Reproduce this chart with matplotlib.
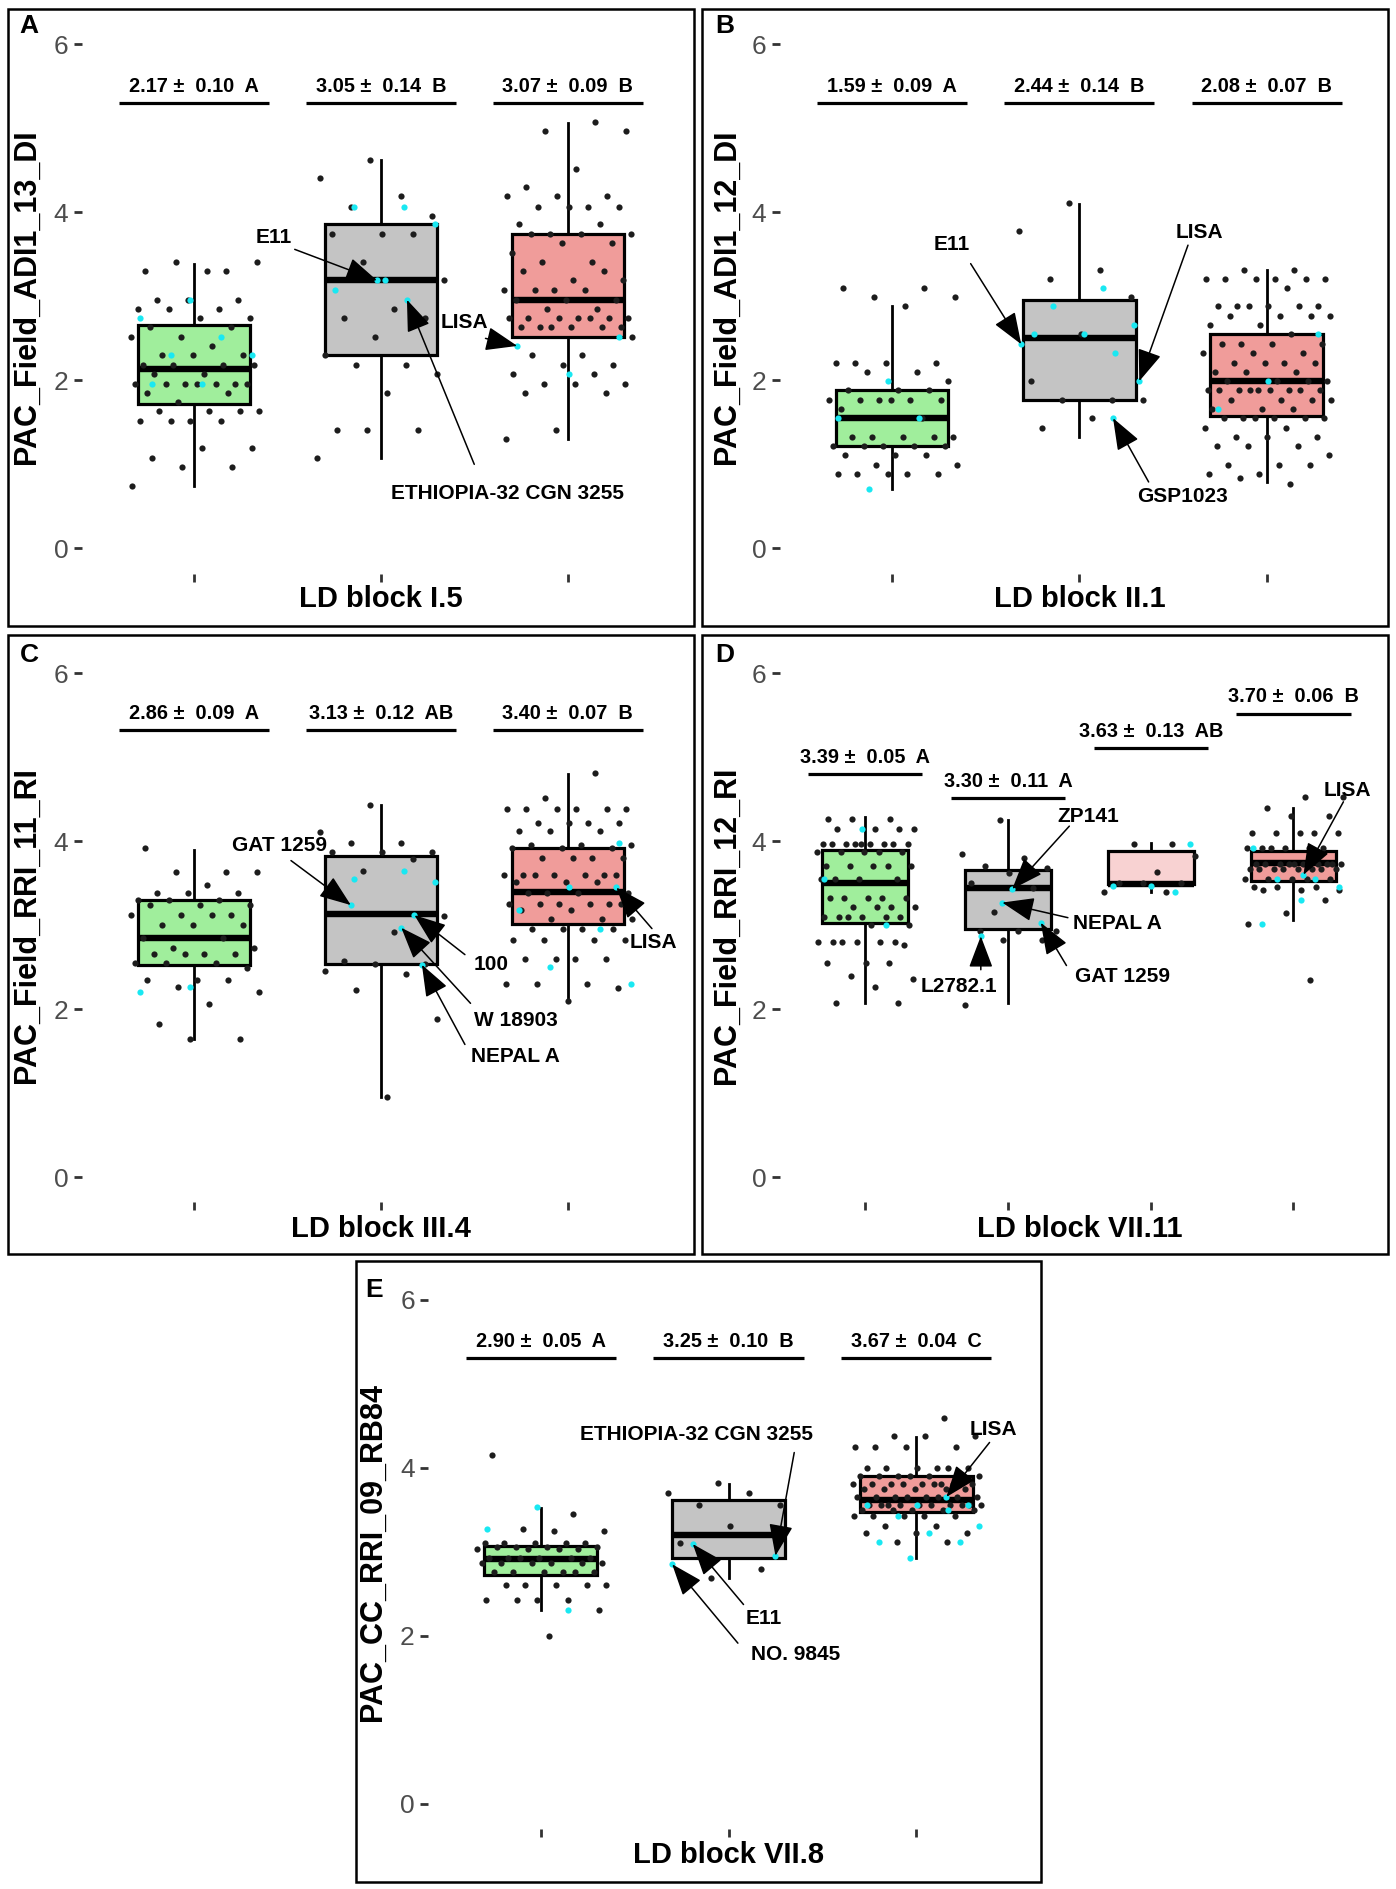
import numpy as np
import matplotlib
matplotlib.use("Agg")
from matplotlib import pyplot as plt
from matplotlib.patches import Rectangle

plt.rcParams['font.family'] = ['Liberation Sans', 'DejaVu Sans']

# ---------------- data ----------------
# Panel A  (LD block I.5)
a_q1 = [1.72, 2.30, 2.52]
a_med = [2.14, 3.19, 2.96]
a_q3 = [2.66, 3.86, 3.74]
a_lo = [0.74, 1.08, 1.30]
a_hi = [3.39, 4.62, 5.07]
a_means = ["2.17 \u00b1  0.10  A", "3.05 \u00b1  0.14  B", "3.07 \u00b1  0.09  B"]
a_black = [
    [3.30, 3.30, 3.41, 3.41, 3.30, 2.96, 2.96, 2.96, 2.85, 2.85, 2.85, 2.74, 2.74, 2.63, 2.63, 2.52, 2.52,
     2.41, 2.30, 2.30, 2.30, 2.18, 2.18, 2.18, 2.18, 2.07, 2.07, 1.96, 1.96, 1.96, 1.96, 1.96, 1.96, 1.96,
     1.85, 1.85, 1.74, 1.63, 1.63, 1.63, 1.63, 1.52, 1.52, 1.52, 1.52, 1.19, 1.19, 1.08, 0.97, 0.97, 0.74],
    [4.62, 4.41, 4.19, 4.07, 3.96, 3.74, 3.74, 3.74, 3.41, 3.19, 2.85, 2.74, 2.74, 2.52, 2.30, 2.18, 2.18,
     2.07, 1.85, 1.41, 1.41, 1.41, 1.08],
    [5.08, 4.97, 4.97, 4.52, 4.30, 4.19, 4.19, 4.19, 4.07, 4.07, 4.07, 4.07, 3.86, 3.86, 3.74, 3.74, 3.74,
     3.74, 3.63, 3.63, 3.52, 3.41, 3.41, 3.19, 3.19, 3.30, 3.30, 3.08, 3.08, 3.08, 3.08, 2.96, 2.96, 2.96,
     2.85, 2.85, 2.74, 2.74, 2.74, 2.74, 2.74, 2.74, 2.74, 2.63, 2.63, 2.63, 2.63, 2.63, 2.63, 2.52, 2.30,
     2.30, 2.18, 2.18, 2.07, 2.07, 1.96, 1.96, 1.96, 1.85, 1.85, 1.41, 1.30],
]
a_cyan = [
    [2.96, 2.74, 2.52, 2.30, 2.30, 1.96, 1.96],
    [4.07, 4.07, 3.86, 3.19, 3.08],
    [2.52, 2.07],
]
# named accessions: label, group, value, jitter, text x, text y, arrow start x, arrow start y
a_named = [
    ("E11", 2, 3.19, -0.02, 1.43, 3.70, 1.54, 3.56),
    ("ETHIOPIA-32 CGN 3255", 2, 2.96, 0.14, 2.68, 0.65, 2.50, 1.00),
    ("LISA", 3, 2.41, -0.27, 2.45, 2.69, 2.56, 2.50),
]

# Panel B  (LD block II.1)
b_q1 = [1.22, 1.77, 1.57]
b_med = [1.55, 2.50, 1.99]
b_q3 = [1.89, 2.96, 2.55]
b_lo = [0.71, 1.33, 0.79]
b_hi = [2.88, 4.10, 3.32]
b_means = ["1.59 \u00b1  0.09  A", "2.44 \u00b1  0.14  B", "2.08 \u00b1  0.07  B"]
b_black = [
    [3.10, 3.10, 2.99, 2.99, 2.88, 2.21, 2.21, 2.21, 2.21, 2.10, 2.10, 1.99, 1.89, 1.89, 1.89, 1.77, 1.77,
     1.77, 1.77, 1.77, 1.77, 1.66, 1.55, 1.33, 1.33, 1.33, 1.33, 1.33, 1.22, 1.22, 1.22, 1.22, 1.22, 1.11,
     1.11, 1.11, 0.99, 0.99, 0.88, 0.88, 0.88, 0.88, 0.88],
    [4.11, 3.78, 3.32, 3.21, 2.99, 2.55, 1.99, 1.77, 1.77, 1.77, 1.55, 1.43, 1.33],
    [3.32, 3.32, 3.21, 3.21, 3.21, 3.21, 3.21, 3.21, 3.10, 2.88, 2.88, 2.88, 2.88, 2.88, 2.88, 2.77, 2.77,
     2.77, 2.77, 2.66, 2.66, 2.55, 2.43, 2.43, 2.43, 2.43, 2.32, 2.32, 2.32, 2.21, 2.21, 2.21, 2.21, 2.10,
     2.10, 2.10, 1.99, 1.99, 1.99, 1.99, 1.89, 1.89, 1.89, 1.89, 1.89, 1.89, 1.89, 1.89, 1.89, 1.77, 1.77,
     1.77, 1.77, 1.66, 1.66, 1.66, 1.55, 1.55, 1.55, 1.55, 1.55, 1.55, 1.43, 1.43, 1.33, 1.33, 1.33, 1.22,
     1.22, 1.22, 1.11, 0.99, 0.99, 0.99, 0.88, 0.88, 0.77, 0.84],
]
b_cyan = [
    [1.99, 1.55, 1.55, 0.71],
    [3.10, 2.88, 2.66, 2.55, 2.55, 2.32],
    [2.55, 1.99, 1.66],
]
b_named = [
    ("E11", 2, 2.43, -0.31, 1.32, 3.62, 1.42, 3.39),
    ("LISA", 2, 1.99, 0.32, 2.64, 3.76, 2.58, 3.61),
    ("GSP1023", 2, 1.55, 0.18, 2.55, 0.62, 2.37, 0.79),
]

# Panel C  (LD block III.4)
c_q1 = [2.53, 2.54, 3.02]
c_med = [2.85, 3.13, 3.40]
c_q3 = [3.30, 3.82, 3.92]
c_lo = [1.65, 0.95, 2.10]
c_hi = [3.90, 4.43, 4.80]
c_means = ["2.86 \u00b1  0.09  A", "3.13 \u00b1  0.12  AB", "3.40 \u00b1  0.07  B"]
c_black = [
    [3.92, 3.63, 3.63, 3.63, 3.48, 3.38, 3.38, 3.38, 3.30, 3.30, 3.30, 3.24, 3.24, 3.24, 3.12, 3.12, 3.12,
     3.12, 3.00, 3.00, 3.00, 2.85, 2.85, 2.73, 2.73, 2.66, 2.66, 2.66, 2.66, 2.55, 2.55, 2.55, 2.49, 2.35,
     2.35, 2.35, 2.27, 2.21, 2.06, 1.82, 1.65, 1.65],
    [4.43, 4.11, 3.98, 3.98, 3.87, 3.87, 3.87, 3.79, 3.65, 3.11, 2.92, 2.58, 2.54, 2.54, 2.45, 2.42, 2.23,
     1.88, 0.95],
    [4.81, 4.52, 4.38, 4.38, 4.38, 4.38, 4.38, 4.38, 4.22, 4.22, 4.22, 4.22, 4.12, 4.12, 4.12, 3.95, 3.95,
     3.95, 3.92, 3.92, 3.92, 3.80, 3.80, 3.80, 3.80, 3.60, 3.60, 3.60, 3.60, 3.60, 3.60, 3.60, 3.52, 3.52,
     3.52, 3.38, 3.38, 3.38, 3.38, 3.25, 3.25, 3.25, 3.25, 3.25, 3.25, 3.18, 3.18, 3.08, 3.08, 3.08, 2.95,
     2.95, 2.95, 2.95, 2.82, 2.82, 2.82, 2.82, 2.60, 2.60, 2.60, 2.60, 2.30, 2.30, 2.30, 2.25, 2.10],
]
c_cyan = [
    [2.27, 2.21],
    [3.65, 3.55, 3.52],
    [3.98, 3.45, 3.18, 2.95, 2.50, 2.30],
]
c_named = [
    ("GAT 1259", 2, 3.24, -0.16, 1.46, 3.95, 1.52, 3.77),
    ("100", 2, 3.12, 0.18, 2.59, 2.53, 2.45, 2.65),
    ("W 18903", 2, 2.97, 0.11, 2.72, 1.86, 2.48, 2.07),
    ("NEPAL A", 2, 2.53, 0.22, 2.72, 1.44, 2.45, 1.58),
    ("LISA", 3, 3.45, 0.26, 3.46, 2.80, 3.45, 2.96),
]

# Panel D  (LD block VII.11)
d_q1 = [3.03, 2.95, 3.49, 3.53]
d_med = [3.50, 3.44, 3.49, 3.74]
d_q3 = [3.90, 3.66, 3.88, 3.88]
d_lo = [2.07, 2.07, 3.40, 3.06]
d_hi = [4.29, 4.25, 3.98, 4.40]
d_means = ["3.39 \u00b1  0.05  A", "3.30 \u00b1  0.11  A", "3.63 \u00b1  0.13  AB", "3.70 \u00b1  0.06  B"]
d_black = [
    [4.27, 4.27, 4.27, 4.15, 4.15, 4.15, 4.15, 3.97, 3.97, 3.97, 3.97, 3.97, 3.97, 3.97, 3.97, 3.97, 3.87,
     3.87, 3.87, 3.87, 3.87, 3.70, 3.70, 3.70, 3.70, 3.70, 3.55, 3.55, 3.55, 3.55, 3.33, 3.33, 3.33, 3.33,
     3.33, 3.22, 3.22, 3.22, 3.22, 3.10, 3.10, 3.10, 3.10, 3.10, 3.10, 3.00, 3.00, 2.80, 2.80, 2.80, 2.80,
     2.80, 2.80, 2.77, 2.55, 2.55, 2.55, 2.40, 2.36, 2.27, 2.07, 2.07],
    [4.25, 3.85, 3.80, 3.70, 3.68, 3.62, 3.50, 3.44, 3.16, 2.93, 2.93, 2.93, 2.82, 2.82, 2.05],
    [3.97, 3.97, 3.83, 3.63, 3.50, 3.50, 3.50, 3.40, 3.40],
    [4.53, 4.53, 4.40, 4.30, 4.30, 4.10, 4.10, 4.10, 4.10, 4.10, 3.92, 3.92, 3.92, 3.92, 3.92, 3.92, 3.73,
     3.73, 3.73, 3.73, 3.73, 3.73, 3.73, 3.73, 3.73, 3.73, 3.67, 3.67, 3.67, 3.67, 3.67, 3.67, 3.67, 3.67,
     3.55, 3.55, 3.55, 3.55, 3.55, 3.45, 3.45, 3.45, 3.42, 3.42, 3.42, 3.30, 3.14, 3.02, 2.35],
]
d_cyan = [
    [4.15, 3.55, 3.00],
    [],
    [3.97, 3.47, 3.47, 3.40],
    [3.92, 3.55, 3.55, 3.45, 3.30, 3.02],
]
d_named = [
    ("ZP141", 2, 3.43, 0.03, 2.56, 4.29, 2.43, 4.18),
    ("NEPAL A", 2, 3.27, -0.04, 2.77, 3.02, 2.42, 3.09),
    ("GAT 1259", 2, 3.03, 0.23, 2.80, 2.39, 2.41, 2.52),
    ("L2782.1", 2, 2.87, -0.19, 1.66, 2.27, 1.81, 2.47),
    ("LISA", 4, 3.60, 0.07, 4.38, 4.60, 4.35, 4.47),
]

# Panel E  (LD block VII.8)
e_q1 = [2.72, 2.93, 3.47]
e_med = [2.91, 3.20, 3.62]
e_q3 = [3.07, 3.61, 3.90]
e_lo = [2.31, 2.69, 2.93]
e_hi = [3.52, 3.81, 4.37]
e_means = ["2.90 \u00b1  0.05  A", "3.25 \u00b1  0.10  B", "3.67 \u00b1  0.04  C"]
e_black = [
    [4.15, 3.45, 3.27, 3.25, 3.25, 3.10, 3.10, 3.10, 3.10, 3.10, 3.05, 3.05, 3.05, 3.05, 3.03, 3.03, 3.03,
     3.03, 2.93, 2.93, 2.93, 2.93, 2.93, 2.93, 2.86, 2.86, 2.86, 2.86, 2.86, 2.86, 2.76, 2.76, 2.76, 2.76,
     2.76, 2.76, 2.60, 2.60, 2.60, 2.60, 2.60, 2.42, 2.42, 2.42, 2.42, 2.31, 2.00],
    [3.82, 3.70, 3.70, 3.55, 3.55, 3.30, 3.10, 2.79, 2.69],
    [4.59, 4.38, 4.38, 4.38, 4.25, 4.25, 4.25, 4.25, 4.00, 4.00, 4.00, 4.00, 4.00, 4.00, 3.90, 3.90, 3.90,
     3.90, 3.90, 3.90, 3.90, 3.80, 3.80, 3.80, 3.80, 3.80, 3.80, 3.80, 3.80, 3.80, 3.74, 3.74, 3.74, 3.74,
     3.74, 3.65, 3.65, 3.65, 3.65, 3.65, 3.65, 3.65, 3.65, 3.56, 3.56, 3.56, 3.56, 3.56, 3.56, 3.56, 3.56,
     3.56, 3.56, 3.50, 3.50, 3.50, 3.50, 3.50, 3.43, 3.43, 3.43, 3.43, 3.43, 3.30, 3.30, 3.22, 3.22, 3.22,
     3.12, 3.12],
]
e_cyan = [
    [3.53, 3.27, 2.31],
    [],
    [3.56, 3.56, 3.56, 3.50, 3.43, 3.30, 3.22, 3.12, 3.12, 2.92],
]
e_named = [
    ("ETHIOPIA-32 CGN 3255", 2, 2.95, 0.25, 1.83, 4.39, 2.35, 4.18),
    ("E11", 2, 3.09, -0.19, 2.19, 2.20, 2.08, 2.37),
    ("NO. 9845", 2, 2.85, -0.30, 2.36, 1.78, 2.05, 1.91),
    ("LISA", 3, 3.65, 0.16, 3.41, 4.45, 3.39, 4.30),
]

# ---------------- styling ----------------
GREEN = "#a0ee9c"
GREY = "#c4c4c4"
SALMON = "#f09c9a"
PINK = "#f8d2d2"
CYAN = "#19e8f2"
DOT = "#1c1c1c"

panels = [
    dict(letter="A", ylab="PAC_Field_ADI1_13_DI", xlab="LD block I.5",
         q1=a_q1, med=a_med, q3=a_q3, lo=a_lo, hi=a_hi, means=a_means, mean_y=[5.30] * 3,
         black=a_black, cyan=a_cyan, named=a_named, colors=[GREEN, GREY, SALMON],
         rect=[0.0584, 0.6964, 0.4287, 0.2934], frame=[0.006, 0.6684, 0.4914, 0.3271],
         let_xy=(0.021, 0.986), ylab_x=0.019, xlab_y=0.683),
    dict(letter="B", ylab="PAC_Field_ADI1_12_DI", xlab="LD block II.1",
         q1=b_q1, med=b_med, q3=b_q3, lo=b_lo, hi=b_hi, means=b_means, mean_y=[5.30] * 3,
         black=b_black, cyan=b_cyan, named=b_named, colors=[GREEN, GREY, SALMON],
         rect=[0.5584, 0.6964, 0.4295, 0.2934], frame=[0.5026, 0.6684, 0.4914, 0.3271],
         let_xy=(0.519, 0.986), ylab_x=0.521, xlab_y=0.683),
    dict(letter="C", ylab="PAC_Field_RRI_11_RI", xlab="LD block III.4",
         q1=c_q1, med=c_med, q3=c_q3, lo=c_lo, hi=c_hi, means=c_means, mean_y=[5.32] * 3,
         black=c_black, cyan=c_cyan, named=c_named, colors=[GREEN, GREY, SALMON],
         rect=[0.0584, 0.3635, 0.4287, 0.2934], frame=[0.006, 0.3361, 0.4914, 0.3278],
         let_xy=(0.021, 0.653), ylab_x=0.019, xlab_y=0.3495),
    dict(letter="D", ylab="PAC_Field_RRI_12_RI", xlab="LD block VII.11",
         q1=d_q1, med=d_med, q3=d_q3, lo=d_lo, hi=d_hi, means=d_means, mean_y=[4.80, 4.51, 5.11, 5.52],
         black=d_black, cyan=d_cyan, named=d_named, colors=[GREEN, GREY, PINK, SALMON],
         rect=[0.5584, 0.3635, 0.4295, 0.2934], frame=[0.5026, 0.3361, 0.4914, 0.3278],
         let_xy=(0.519, 0.653), ylab_x=0.521, xlab_y=0.3495),
    dict(letter="E", ylab="PAC_CC_RRI_09_RB84", xlab="LD block VII.8",
         q1=e_q1, med=e_med, q3=e_q3, lo=e_lo, hi=e_hi, means=e_means, mean_y=[5.30] * 3,
         black=e_black, cyan=e_cyan, named=e_named, colors=[GREEN, GREY, SALMON],
         rect=[0.3066, 0.0319, 0.4305, 0.2934], frame=[0.2552, 0.0038, 0.4905, 0.3285],
         let_xy=(0.268, 0.317), ylab_x=0.267, xlab_y=0.0179),
]


def jitter(n, seed):
    # deterministic spread of point positions across the jitter band
    return 0.35 * (2 * ((np.arange(n) * 0.618034 + seed) % 1.0) - 1)


fig = plt.figure(figsize=(13.96, 18.89), dpi=100)

for p in panels:
    ax = fig.add_axes(p["rect"])
    n = len(p["q1"])
    pos = np.arange(1, n + 1)

    stats = []
    for i in range(n):
        stats.append(dict(med=p["med"][i], q1=p["q1"][i], q3=p["q3"][i],
                          whislo=p["lo"][i], whishi=p["hi"][i], fliers=[]))
    bp = ax.bxp(stats, positions=pos, widths=0.6, patch_artist=True, showcaps=False,
                showfliers=False, manage_ticks=False,
                boxprops=dict(edgecolor="black", linewidth=2.3),
                medianprops=dict(color="black", linewidth=4.6, solid_capstyle="butt"),
                whiskerprops=dict(color="black", linewidth=2.0))
    for box, col in zip(bp["boxes"], p["colors"]):
        box.set_facecolor(col)

    for i in range(n):
        yb = np.array(p["black"][i])
        ax.scatter(pos[i] + jitter(len(yb), 0.13 + 0.29 * i), yb, s=20, color=DOT,
                   zorder=3, linewidths=0)
        yc = np.array(p["cyan"][i])
        if len(yc):
            ax.scatter(pos[i] + jitter(len(yc), 0.47 + 0.21 * i), yc, s=20, color=CYAN,
                       zorder=3, linewidths=0)

    for lab, g, val, dx, tx, ty, sx, sy in p["named"]:
        px = g + dx
        ax.scatter([px], [val], s=20, color=CYAN, zorder=3, linewidths=0)
        ax.annotate("", xy=(px, val), xytext=(sx, sy),
                    arrowprops=dict(arrowstyle="-|>,head_length=0.9,head_width=0.34",
                                    color="black", lw=1.1, mutation_scale=22,
                                    shrinkA=0, shrinkB=0), zorder=4)
        ax.text(tx, ty, lab, ha="center", va="center", fontsize=15,
                fontweight="bold", zorder=5)

    for i in range(n):
        ax.plot([pos[i] - 0.4, pos[i] + 0.4], [p["mean_y"][i]] * 2, color="black",
                lw=2.3, solid_capstyle="butt")
        ax.text(pos[i], p["mean_y"][i] + 0.2, p["means"][i], ha="center", va="center",
                fontsize=14.3, fontweight="bold")

    ax.set_xlim(0.4, n + 0.6)
    ax.set_ylim(-0.3, 6.3)
    ax.set_xticks(pos)
    ax.set_yticks([0, 2, 4, 6])
    ax.set_yticklabels(["0", "2", "4", "6"])
    ax.tick_params(axis="x", length=5.5, width=2, color="#333333", labelbottom=False)
    ax.tick_params(axis="y", length=5.5, width=2, color="#333333", pad=4,
                   labelsize=19, labelcolor="#4d4d4d")
    for sp in ax.spines.values():
        sp.set_visible(False)
    ax.patch.set_alpha(0)

    box_ = ax.get_position()
    fig.text(p["ylab_x"], box_.y0 + box_.height / 2, p["ylab"], rotation=90,
             ha="center", va="center", fontsize=22, fontweight="bold")
    fig.text(box_.x0 + box_.width / 2, p["xlab_y"], p["xlab"], ha="center", va="center",
             fontsize=21, fontweight="bold")
    fig.text(p["let_xy"][0], p["let_xy"][1], p["letter"], ha="center", va="center",
             fontsize=19, fontweight="bold")
    fx, fy, fw, fh = p["frame"]
    fig.add_artist(Rectangle((fx, fy), fw, fh, transform=fig.transFigure, fill=False,
                             edgecolor="black", lw=1.8))

fig.savefig("out.png", dpi=100)
